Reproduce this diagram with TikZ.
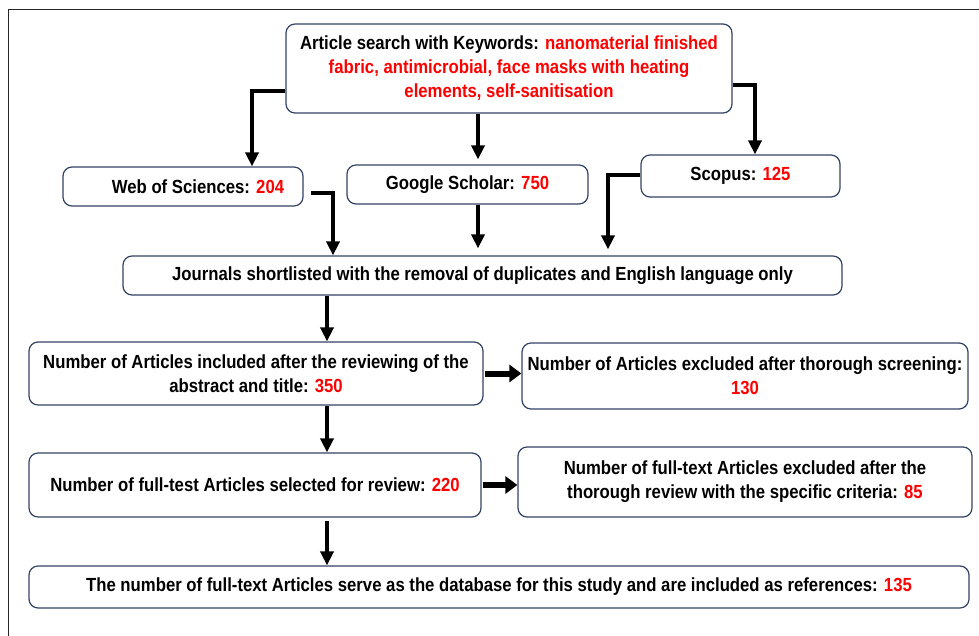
\documentclass[tikz,border=0pt]{standalone}
\usepackage{fontspec}
\setmainfont[FakeStretch=0.88]{Liberation Sans}
\usetikzlibrary{arrows.meta}
\definecolor{boxline}{RGB}{52,66,100}
\definecolor{hitred}{RGB}{255,0,0}
\tikzset{
  box/.style={draw=boxline, line width=1.2pt, rounded corners=9pt, fill=white,
    align=center, inner sep=2pt, font=\fontsize{19}{24}\selectfont\bfseries},
  flow/.style={line width=4pt, line join=miter, -{Triangle[length=14pt,width=13pt]}},
  fatflow/.style={line width=6pt, -{Triangle[length=12pt,width=17pt]}}
}
\newcommand{\hit}[1]{\textcolor{hitred}{#1}}
\begin{document}
\begin{tikzpicture}[x=1pt,y=-1pt]
  \useasboundingbox (0,0) rectangle (979,635);
  % frame
  \draw[line width=1.5pt, black!85] (8.5,640) -- (8.5,9.5) -- (985,9.5);

  % search and databases
  \node[box, minimum width=446pt, minimum height=89pt] (search) at (509,68.5)
    {Article search with Keywords: \hit{nanomaterial finished}\\
     \hit{fabric, antimicrobial, face masks with heating}\\
     \hit{elements, self-sanitisation}};
  \node[box, minimum width=240pt, minimum height=39pt] (web) at (183,186.5)
    {\hspace{30pt}Web of Sciences: \hit{204}};
  \node[box, minimum width=241pt, minimum height=39pt] (google) at (467.5,184.5)
    {Google Scholar: \hit{750}};
  \node[box, minimum width=199pt, minimum height=42pt] (scopus) at (740.5,176)
    {Scopus: \hit{125}};
  \node[box, minimum width=719pt, minimum height=39pt] (journals) at (482.5,275.5)
    {Journals shortlisted with the removal of duplicates and English language only};

  % screening
  \node[box, minimum width=454pt, minimum height=63pt] (included) at (256,373.5)
    {Number of Articles included after the reviewing of the\\
     abstract and title: \hit{350}};
  \node[box, minimum width=446pt, minimum height=66pt] (excluded) at (745,376)
    {Number of Articles excluded after thorough screening:\\
     \hit{130}};
  \node[box, minimum width=452pt, minimum height=64pt] (selected) at (255,485)
    {Number of full-test Articles selected for review: \hit{220}};
  \node[box, minimum width=454pt, minimum height=70pt] (rejected) at (745,482)
    {Number of full-text Articles excluded after the\\
     thorough review with the specific criteria: \hit{85}};
  \node[box, minimum width=940pt, minimum height=42pt] (final) at (499,587)
    {The number of full-text Articles serve as the database for this study and are included as references: \hit{135}};

  \coordinate (spine) at (327,0);

  % arrows
  \draw[flow] ([yshift=-22.5pt]search.west) -| ([xshift=69pt]web.north);
  \draw[flow] ([xshift=-31pt]search.south) -- ([xshift=10.5pt,yshift=5pt]google.north);
  \draw[flow] ([yshift=-16.5pt]search.east) -| ([xshift=14.5pt]scopus.north);
  \draw[flow] ([xshift=7pt,yshift=-6.5pt]web.east) -| ([xshift=-149.5pt]journals.north);
  \draw[flow] ([xshift=10.5pt]google.south) -- ([xshift=-4.5pt,yshift=7pt]journals.north);
  \draw[flow] ([yshift=1pt]scopus.west) -| ([xshift=125.5pt,yshift=6pt]journals.north);
  \draw[flow] (journals.south -| spine) -- (included.north -| spine);
  \draw[flow] (included.south -| spine) -- (selected.north -| spine);
  \draw[flow] ([yshift=-3pt]selected.south -| spine) -- (final.north -| spine);
  \draw[fatflow] ([xshift=1pt]included.east) -- (excluded.west |- included.east);
  \draw[fatflow] ([xshift=1pt]selected.east) -- (rejected.west |- selected.east);
\end{tikzpicture}
\end{document}
